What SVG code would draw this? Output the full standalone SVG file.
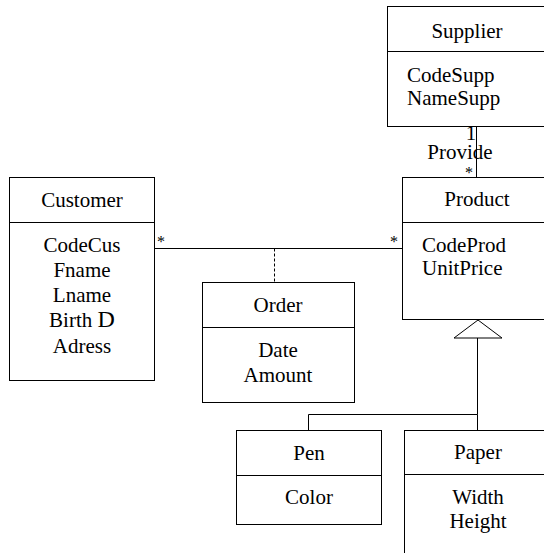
<svg xmlns="http://www.w3.org/2000/svg" width="544" height="553" viewBox="0 0 544 553">
<style>
.box{fill:#fff;stroke:#000;stroke-width:1}
.ln{fill:none;stroke:#000;stroke-width:1}
.dash{fill:none;stroke:#000;stroke-width:1;stroke-dasharray:3,2}
text{font-family:"Liberation Serif","Times New Roman",serif;font-size:21px;fill:#000}
.c{text-anchor:middle}
.m{font-size:16px}
</style>
<rect width="544" height="553" fill="#fff"/>
<g id="connectors">
<line class="ln" x1="476.5" y1="126" x2="476.5" y2="177"/>
<line class="ln" x1="155" y1="248.5" x2="402" y2="248.5"/>
<line class="dash" x1="274.5" y1="248.5" x2="274.5" y2="282"/>
<polygon class="box" points="478,320 454,338 502,338"/>
<polyline class="ln" points="477.5,338 477.5,414.5 308.5,414.5 308.5,430"/>
<line class="ln" x1="477.5" y1="414.5" x2="477.5" y2="430"/>
<text x="471" y="140" class="c" font-size="19">1</text>
<text x="460" y="159" class="c">Provide</text>
<text x="469" y="178" class="c m">*</text>
<text x="161" y="247" class="c m">*</text>
<text x="394" y="247" class="c m">*</text>
</g>
<g id="supplier">
<rect class="box" x="387.5" y="6.5" width="170" height="120"/>
<line class="ln" x1="387.5" y1="51.5" x2="557" y2="51.5"/>
<text x="467" y="38" class="c">Supplier</text>
<text x="407" y="82">CodeSupp</text>
<text x="407" y="105">NameSupp</text>
</g>
<g id="product">
<rect class="box" x="402.5" y="177.5" width="160" height="142"/>
<line class="ln" x1="402.5" y1="222.5" x2="562" y2="222.5"/>
<text x="477" y="206" class="c">Product</text>
<text x="422" y="252">CodeProd</text>
<text x="422" y="275">UnitPrice</text>
</g>
<g id="customer">
<rect class="box" x="9.5" y="177.5" width="145" height="203"/>
<line class="ln" x1="9.5" y1="222.5" x2="154.5" y2="222.5"/>
<text x="82" y="207" class="c">Customer</text>
<text x="82" y="252" class="c">CodeCus</text>
<text x="82" y="277" class="c">Fname</text>
<text x="82" y="302" class="c">Lname</text>
<text x="82" y="327" class="c">Birth <tspan font-size="24">D</tspan></text>
<text x="82" y="353" class="c">Adress</text>
</g>
<g id="order">
<rect class="box" x="202.5" y="282.5" width="152" height="120"/>
<line class="ln" x1="202.5" y1="327.5" x2="354.5" y2="327.5"/>
<text x="278" y="312" class="c">Order</text>
<text x="278" y="357" class="c">Date</text>
<text x="278" y="382" class="c">Amount</text>
</g>
<g id="pen">
<rect class="box" x="236.5" y="430.5" width="145" height="94"/>
<line class="ln" x1="236.5" y1="475.5" x2="381.5" y2="475.5"/>
<text x="309" y="460" class="c">Pen</text>
<text x="309" y="504" class="c">Color</text>
</g>
<g id="paper">
<rect class="box" x="404.5" y="430.5" width="160" height="140"/>
<line class="ln" x1="404.5" y1="474.5" x2="564" y2="474.5"/>
<text x="478" y="459" class="c">Paper</text>
<text x="478" y="504" class="c">Width</text>
<text x="478" y="528" class="c">Height</text>
</g>
</svg>
